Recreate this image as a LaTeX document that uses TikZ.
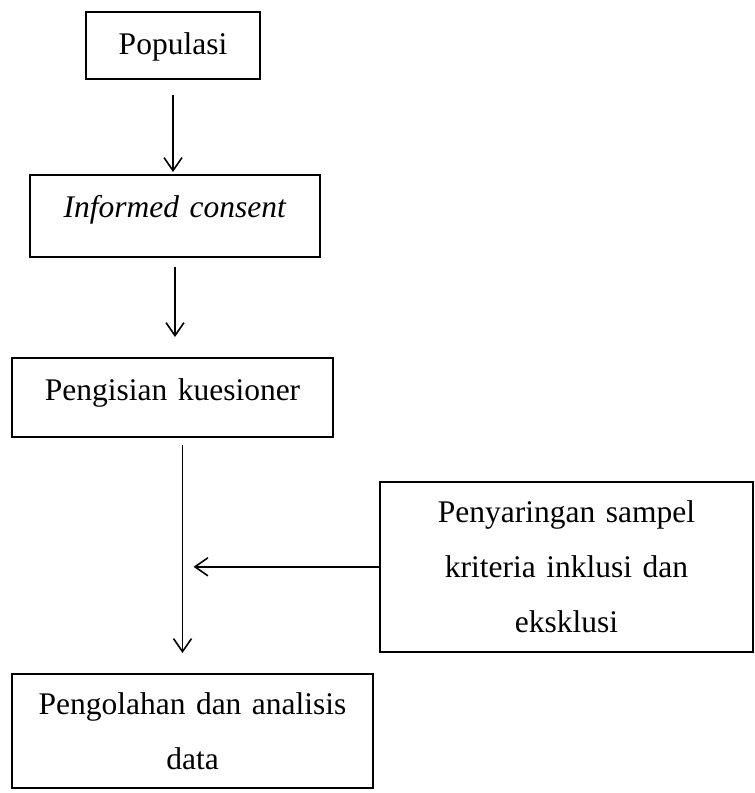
\documentclass[tikz,border=0pt]{standalone}
\usepackage{fontspec}
\setmainfont{Liberation Serif}
\usetikzlibrary{calc,arrows.meta}

\begin{document}
\begin{tikzpicture}[x=0.5pt,y=-0.5pt,
    box/.style={draw,line width=0.8pt,inner sep=0pt,align=center,font=\fontsize{15.75pt}{27.5pt}\selectfont},
    arr/.style={line width=0.8pt,-{Straight Barb[length=6.5pt,width=9pt,line width=0.8pt]}}]
      \useasboundingbox (0,0) rectangle (755,793);
      \node[box,text width=87pt,text height=21.5pt,text depth=12pt,anchor=north] (pop) at (173,11) {Populasi};
      \node[box,text width=145pt,text height=21.5pt,text depth=19.5pt,anchor=north] (inf) at (175,174) {\textit{Informed consent}};
      \node[box,text width=160.5pt,text height=21.5pt,text depth=18pt,anchor=north] (peng) at (172.5,357) {Pengisian kuesioner};
      \node[box,text width=186.5pt,text height=20.5pt,text depth=64.5pt,anchor=north] (scr) at (566.5,481) {Penyaringan sampel\\kriteria inklusi dan\\eksklusi};
      \node[box,text width=180.5pt,text height=20.5pt,text depth=36.5pt,anchor=north] (olah) at (192.5,673) {Pengolahan dan analisis\\data};
      \coordinate (m) at ($(peng.south)!0.5!(olah.north)$);
      \draw[arr]([yshift=-7.5pt]pop.south)--([yshift=1pt]pop.south |- inf.north);
      \draw[arr]([yshift=-4.5pt]inf.south)--([yshift=10pt]inf.south |- peng.north);
      \draw[arr]([yshift=-3.5pt]m |- peng.south)--([yshift=10pt]m |- olah.north);
      \draw[arr](scr.west)--([xshift=5.5pt]m |- scr.west);
    \end{tikzpicture}
\end{document}
